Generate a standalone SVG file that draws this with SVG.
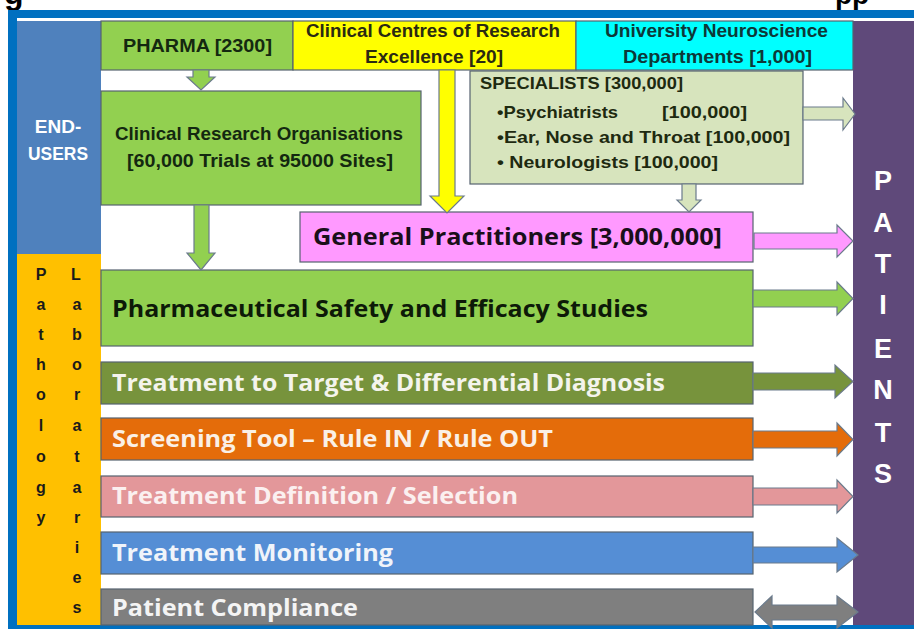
<svg xmlns="http://www.w3.org/2000/svg" width="914" height="629" viewBox="0 0 914 629">
<style>
.box{stroke:#56636f;stroke-width:1.2}
.hd{font-family:"Liberation Sans",Arial,sans-serif;font-weight:bold;font-size:19px}
.sp{font-family:"Liberation Sans",Arial,sans-serif;font-weight:bold;font-size:16.5px;fill:#1e2a10}
.bar{font-family:"Open Sans","Liberation Sans",sans-serif;font-weight:bold;font-size:23px}
.vl{font-family:"Liberation Sans",Arial,sans-serif;font-weight:bold;font-size:16px;fill:#1a1a1a;text-anchor:middle}
.pt{font-family:"Liberation Sans",Arial,sans-serif;font-weight:bold;font-size:27px;fill:#ffffff;text-anchor:middle}
.arr{stroke:#6b7b8c;stroke-width:1.2;stroke-linejoin:miter}
</style>
<rect x="0" y="0" width="914" height="629" fill="#ffffff"/>
<!-- cropped title fragments -->
<text x="4" y="4" font-family="Liberation Sans,Arial,sans-serif" font-weight="bold" font-size="32" fill="#000">g</text>
<text x="835" y="4" font-family="Liberation Sans,Arial,sans-serif" font-weight="bold" font-size="28" fill="#000">pp</text>
<!-- frame -->
<rect x="8" y="10" width="906" height="8" fill="#0070C0"/>
<rect x="8" y="10" width="9" height="619" fill="#0070C0"/>
<rect x="8" y="625" width="906" height="4" fill="#0070C0"/>

<g id="end-users">
<rect x="17" y="21" width="84" height="233" fill="#4F81BD"/>
<text x="58" y="133" class="hd" fill="#ffffff" text-anchor="middle" font-size="19">END-</text>
<text x="58" y="160" class="hd" fill="#ffffff" text-anchor="middle" font-size="19" textLength="60" lengthAdjust="spacingAndGlyphs">USERS</text>
</g>
<g id="pathology-laboratories">
<rect x="17" y="254" width="84" height="371" fill="#FFC000"/>
<text class="vl" x="41" y="280">P</text><text class="vl" x="41" y="310">a</text><text class="vl" x="41" y="340">t</text><text class="vl" x="41" y="370">h</text><text class="vl" x="41" y="400">o</text><text class="vl" x="41" y="431">l</text><text class="vl" x="41" y="462">o</text><text class="vl" x="41" y="493">g</text><text class="vl" x="41" y="523">y</text>
<text class="vl" x="76" y="280">L</text><text class="vl" x="77" y="310">a</text><text class="vl" x="77" y="340">b</text><text class="vl" x="77" y="370">o</text><text class="vl" x="77" y="400">r</text><text class="vl" x="77" y="431">a</text><text class="vl" x="77" y="462">t</text><text class="vl" x="77" y="493">a</text><text class="vl" x="77" y="523">r</text><text class="vl" x="77" y="553">i</text><text class="vl" x="77" y="583">e</text><text class="vl" x="77" y="613">s</text>
</g>
<g id="patients">
<rect x="853" y="21" width="61" height="604" fill="#5F497A"/>
<text class="pt" x="883" y="190">P</text><text class="pt" x="883" y="232">A</text><text class="pt" x="883" y="273">T</text><text class="pt" x="883" y="314">I</text><text class="pt" x="883" y="358">E</text><text class="pt" x="883" y="399">N</text><text class="pt" x="883" y="442">T</text><text class="pt" x="883" y="483">S</text>
</g>
<g id="pharma">
<rect class="box" x="101" y="21" width="192" height="49" fill="#92D050"/>
<text class="hd" x="123" y="52" fill="#142810" textLength="149" lengthAdjust="spacingAndGlyphs">PHARMA [2300]</text>
</g>
<g id="clinical-centres">
<rect class="box" x="293" y="21" width="283" height="49" fill="#FFFF00"/>
<text class="hd" x="306" y="37" fill="#2a2a12" textLength="254" lengthAdjust="spacingAndGlyphs">Clinical Centres of Research</text>
<text class="hd" x="365" y="63" fill="#2a2a12" textLength="138" lengthAdjust="spacingAndGlyphs">Excellence [20]</text>
</g>
<g id="university">
<rect class="box" x="576" y="21" width="277" height="49" fill="#00FFFF"/>
<text class="hd" x="605" y="37" fill="#0d3838" textLength="223" lengthAdjust="spacingAndGlyphs">University Neuroscience</text>
<text class="hd" x="623" y="63" fill="#0d3838" textLength="189" lengthAdjust="spacingAndGlyphs">Departments [1,000]</text>
</g>
<g id="cro">
<rect class="box" x="101" y="91" width="320" height="114" fill="#92D050"/>
<text class="hd" x="115" y="140" fill="#142810" textLength="288" lengthAdjust="spacingAndGlyphs">Clinical Research Organisations</text>
<text class="hd" x="127" y="167" fill="#142810" textLength="266" lengthAdjust="spacingAndGlyphs">[60,000 Trials at 95000 Sites]</text>
</g>
<g id="specialists">
<rect class="box" x="470" y="71" width="333" height="113" fill="#D7E4BD"/>
<text class="sp" x="480" y="89" textLength="203" lengthAdjust="spacingAndGlyphs">SPECIALISTS [300,000]</text>
<text class="sp" x="497" y="118" textLength="121" lengthAdjust="spacingAndGlyphs">•Psychiatrists</text>
<text class="sp" x="662" y="118" textLength="85" lengthAdjust="spacingAndGlyphs">[100,000]</text>
<text class="sp" x="497" y="143" textLength="293" lengthAdjust="spacingAndGlyphs">•Ear, Nose and Throat [100,000]</text>
<text class="sp" x="497" y="168" textLength="221" lengthAdjust="spacingAndGlyphs">• Neurologists [100,000]</text>
</g>
<g id="general-practitioners">
<rect class="box" x="300" y="212" width="453" height="50" fill="#FF99FF"/>
<text class="bar" x="313" y="245" fill="#1a0f1a" font-size="25" textLength="409" lengthAdjust="spacingAndGlyphs">General Practitioners [3,000,000]</text>
</g>
<g id="pharma-safety">
<rect class="box" x="101" y="270" width="652" height="76" fill="#92D050"/>
<text class="bar" x="112" y="317" fill="#0d1a08" font-size="25" textLength="536" lengthAdjust="spacingAndGlyphs">Pharmaceutical Safety and Efficacy Studies</text>
</g>
<g id="treatment-target">
<rect class="box" x="101" y="362" width="652" height="42" fill="#77933C"/>
<text class="bar" x="112" y="391" fill="#F4F4EC" textLength="553" lengthAdjust="spacingAndGlyphs">Treatment to Target &amp; Differential Diagnosis</text>
</g>
<g id="screening">
<rect class="box" x="101" y="418" width="652" height="42" fill="#E46C0A"/>
<text class="bar" x="112" y="447" fill="#FAF0E6" textLength="441" lengthAdjust="spacingAndGlyphs">Screening Tool – Rule IN / Rule OUT</text>
</g>
<g id="treatment-definition">
<rect class="box" x="101" y="476" width="652" height="41" fill="#E3979A"/>
<text class="bar" x="112" y="504" fill="#FBF0F0" textLength="406" lengthAdjust="spacingAndGlyphs">Treatment Definition / Selection</text>
</g>
<g id="treatment-monitoring">
<rect class="box" x="101" y="532" width="652" height="42" fill="#558ED5"/>
<text class="bar" x="112" y="561" fill="#F0F4FA" textLength="281" lengthAdjust="spacingAndGlyphs">Treatment Monitoring</text>
</g>
<g id="patient-compliance">
<rect class="box" x="101" y="589" width="652" height="36" fill="#7F7F7F"/>
<text class="bar" x="112" y="616" fill="#F4F4F4" textLength="246" lengthAdjust="spacingAndGlyphs">Patient Compliance</text>
</g>

<g id="connectors">
<!-- down arrows -->
<path class="arr" fill="#92D050" d="M193,70 H209 V77 H215 L201,90 L187,77 H193 Z"/>
<path class="arr" fill="#92D050" d="M194,205 H209 V253 H215 L201,270 L187,253 H194 Z"/>
<path class="arr" fill="#FFFF00" d="M439,70 H455 V196 H464 L447,213 L430,196 H439 Z"/>
<path class="arr" fill="#D7E4BD" d="M682,184 H696 V200 H701 L689,212 L677,200 H682 Z"/>
<!-- right arrows -->
<path class="arr" fill="#D7E4BD" d="M803,107 H843 V98 L855,114 L843,130 V120 H803 Z"/>
<path class="arr" fill="#FF99FF" d="M754,233 H837 V225 L853,241 L837,257 V249 H754 Z"/>
<path class="arr" fill="#92D050" d="M753,290 H837 V282 L853,298.5 L837,315 V307 H753 Z"/>
<path class="arr" fill="#77933C" d="M753,373 H835 V365 L853,381.5 L835,398 V390 H753 Z"/>
<path class="arr" fill="#E46C0A" d="M753,431 H837 V423 L853,439.5 L837,456 V448 H753 Z"/>
<path class="arr" fill="#E3979A" d="M753,488 H837 V480 L853,496.5 L837,513 V505 H753 Z"/>
<path class="arr" fill="#558ED5" d="M753,547 H837 V538 L858,555 L837,572 V563 H753 Z"/>
<path class="arr" fill="#7F7F7F" d="M755,612 L772,596 V605 H837 V596 L858,612 L837,628 V620 H772 V628 Z"/>
</g>
</svg>
